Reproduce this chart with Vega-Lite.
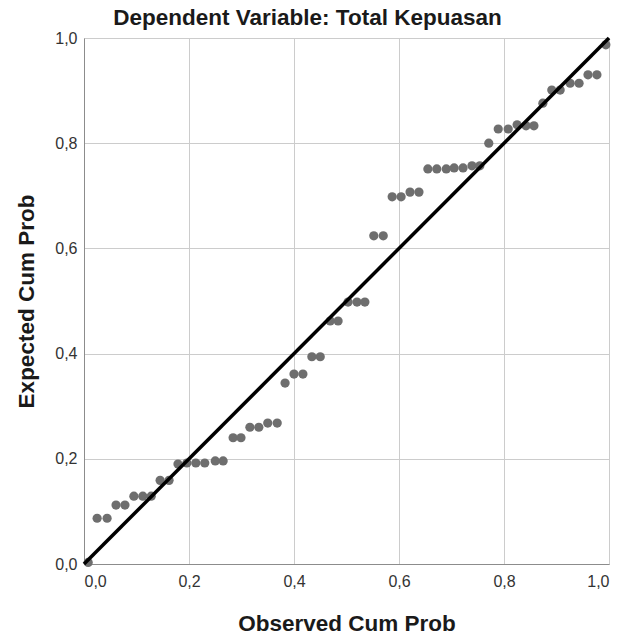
{
  "$schema": "https://vega.github.io/schema/vega-lite/v6.json",
  "autosize": "none",
  "width": 525,
  "height": 526,
  "padding": {"left": 84, "top": 38, "right": 15, "bottom": 76},
  "background": "white",
  "title": {"text": "Dependent Variable: Total Kepuasan", "font": "Liberation Sans", "fontSize": 22.5, "fontWeight": "bold", "color": "#1a1a1a", "anchor": "middle", "frame": "group", "dx": -39, "offset": 1},
  "config": {
    "view": {"stroke": "#cccccc", "strokeWidth": 1},
    "axis": {"labelFont": "Liberation Sans", "titleFont": "Liberation Sans", "labelFontSize": 16, "labelColor": "#333333", "titleFontSize": 22.5, "titleFontWeight": "bold", "titleColor": "#1a1a1a", "gridColor": "#cccccc", "gridWidth": 1, "domainColor": "#8c8c8c", "ticks": false}
  },
  "datasets": {
    "pts": [
      {"obs": 0.008, "exp": 0.003},
      {"obs": 0.025, "exp": 0.087}, {"obs": 0.044, "exp": 0.087},
      {"obs": 0.061, "exp": 0.112}, {"obs": 0.078, "exp": 0.112},
      {"obs": 0.095, "exp": 0.129}, {"obs": 0.112, "exp": 0.129}, {"obs": 0.128, "exp": 0.129},
      {"obs": 0.145, "exp": 0.159}, {"obs": 0.162, "exp": 0.159},
      {"obs": 0.179, "exp": 0.190}, {"obs": 0.196, "exp": 0.192}, {"obs": 0.213, "exp": 0.192}, {"obs": 0.230, "exp": 0.192}, {"obs": 0.250, "exp": 0.196}, {"obs": 0.265, "exp": 0.196},
      {"obs": 0.284, "exp": 0.240}, {"obs": 0.299, "exp": 0.240},
      {"obs": 0.316, "exp": 0.260}, {"obs": 0.333, "exp": 0.260},
      {"obs": 0.350, "exp": 0.268}, {"obs": 0.368, "exp": 0.268},
      {"obs": 0.383, "exp": 0.344},
      {"obs": 0.400, "exp": 0.361}, {"obs": 0.417, "exp": 0.361},
      {"obs": 0.434, "exp": 0.394}, {"obs": 0.450, "exp": 0.394},
      {"obs": 0.469, "exp": 0.462}, {"obs": 0.484, "exp": 0.462},
      {"obs": 0.503, "exp": 0.498}, {"obs": 0.520, "exp": 0.498}, {"obs": 0.535, "exp": 0.498},
      {"obs": 0.552, "exp": 0.624}, {"obs": 0.570, "exp": 0.624},
      {"obs": 0.587, "exp": 0.698}, {"obs": 0.604, "exp": 0.698},
      {"obs": 0.621, "exp": 0.707}, {"obs": 0.638, "exp": 0.707},
      {"obs": 0.655, "exp": 0.751}, {"obs": 0.672, "exp": 0.751}, {"obs": 0.690, "exp": 0.751}, {"obs": 0.705, "exp": 0.753}, {"obs": 0.722, "exp": 0.753}, {"obs": 0.739, "exp": 0.757}, {"obs": 0.754, "exp": 0.757},
      {"obs": 0.771, "exp": 0.800},
      {"obs": 0.789, "exp": 0.827}, {"obs": 0.808, "exp": 0.827}, {"obs": 0.825, "exp": 0.835}, {"obs": 0.842, "exp": 0.833}, {"obs": 0.857, "exp": 0.833},
      {"obs": 0.874, "exp": 0.876},
      {"obs": 0.891, "exp": 0.901}, {"obs": 0.907, "exp": 0.901},
      {"obs": 0.926, "exp": 0.914}, {"obs": 0.943, "exp": 0.914},
      {"obs": 0.960, "exp": 0.930}, {"obs": 0.977, "exp": 0.930},
      {"obs": 0.994, "exp": 0.987}
    ],
    "diag": [{"obs": 0, "exp": 0}, {"obs": 1, "exp": 1}]
  },
  "layer": [
    {
      "data": {"name": "pts"},
      "mark": {"type": "circle", "size": 85, "color": "#6e6e6e", "opacity": 1},
      "encoding": {
        "x": {"field": "obs", "type": "quantitative", "scale": {"domain": [0, 1], "nice": false, "zero": false}, "axis": {"title": "Observed Cum Prob", "values": [0, 0.2, 0.4, 0.6, 0.8, 1], "labelExpr": "replace(format(datum.value, '.1f'), '.', ',')", "titlePadding": 23, "labelPadding": 9}},
        "y": {"field": "exp", "type": "quantitative", "scale": {"domain": [0, 1], "nice": false, "zero": false}, "axis": {"title": "Expected Cum Prob", "values": [0, 0.2, 0.4, 0.6, 0.8, 1], "labelExpr": "replace(format(datum.value, '.1f'), '.', ',')", "titlePadding": 16, "labelPadding": 7}}
      }
    },
    {
      "data": {"name": "diag"},
      "mark": {"type": "line", "color": "#000000", "strokeWidth": 3.5},
      "encoding": {
        "x": {"field": "obs", "type": "quantitative"},
        "y": {"field": "exp", "type": "quantitative"}
      }
    }
  ]
}
